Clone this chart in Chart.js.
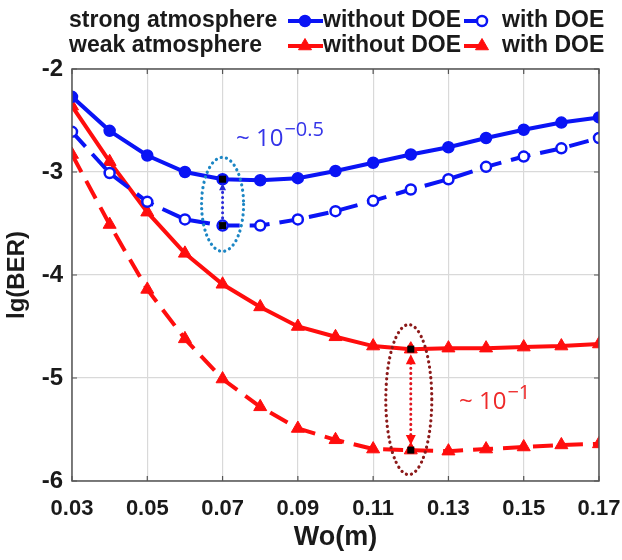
<!DOCTYPE html>
<html>
<head>
<meta charset="utf-8">
<script src="https://cdn.jsdelivr.net/npm/chart.js@4"></script>
<style>
  html,body{margin:0;padding:0;background:#fff;}
  #wrap{width:622px;height:560px;position:relative;}
</style>
</head>
<body>
<div id="wrap"><canvas id="c" width="622" height="560"></canvas></div>
<script>
// ---- data ----
const wo = [0.03,0.04,0.05,0.06,0.07,0.08,0.09,0.10,0.11,0.12,0.13,0.14,0.15,0.16,0.17];
const strongNoDOE = [-2.27,-2.60,-2.84,-3.00,-3.07,-3.08,-3.06,-2.99,-2.91,-2.83,-2.76,-2.67,-2.59,-2.52,-2.47];
const strongDOE   = [-2.61,-3.01,-3.29,-3.46,-3.52,-3.52,-3.46,-3.38,-3.28,-3.17,-3.07,-2.95,-2.85,-2.77,-2.67];
const weakNoDOE   = [-2.36,-2.90,-3.39,-3.79,-4.09,-4.31,-4.50,-4.60,-4.69,-4.72,-4.71,-4.71,-4.70,-4.69,-4.67];
const weakDOE     = [-2.83,-3.51,-4.14,-4.62,-5.01,-5.28,-5.49,-5.60,-5.69,-5.70,-5.71,-5.69,-5.67,-5.65,-5.64];
const xTicks = [0.03,0.05,0.07,0.09,0.11,0.13,0.15,0.17];
const yTicks = [-6,-5,-4,-3,-2];
const rowLabels = ['strong atmosphere','weak atmosphere'];
const seriesLabels = ['without DOE','with DOE'];
const strongNote = {base:'~ 10', exp:'\u22120.5', at:0.07};
const weakNote = {base:'~ 10', exp:'\u22121', at:0.12};

const BLUE = '#0a14f5', RED = '#ff0d0d';
const pts = a => a.map((v,i)=>({x:wo[i], y:v}));

const annotPlugin = {
  id:'annot',
  afterDatasetsDraw(chart){
    const ctx = chart.ctx, xs = chart.scales.x, ys = chart.scales.y;
    const drawEllipse = (cx, cy, rx, ry, color) => {
      ctx.save();
      ctx.strokeStyle = color; ctx.lineWidth = 3.2; ctx.lineCap='round';
      ctx.setLineDash([0.1,5.2]);
      ctx.beginPath(); ctx.ellipse(cx, cy, rx, ry, 0, 0, Math.PI*2); ctx.stroke();
      ctx.restore();
    };
    const drawVDots = (x0, ya, yb, color) => {
      ctx.save();
      ctx.strokeStyle = color; ctx.lineWidth = 3; ctx.lineCap='round';
      ctx.setLineDash([0.1,5]);
      ctx.beginPath(); ctx.moveTo(x0, ya); ctx.lineTo(x0, yb); ctx.stroke();
      ctx.restore();
    };
    const arrow = (x0, yTip, dir, color, w, h) => {
      ctx.save(); ctx.fillStyle = color;
      ctx.beginPath(); ctx.moveTo(x0, yTip); ctx.lineTo(x0-w, yTip+dir*h); ctx.lineTo(x0+w, yTip+dir*h); ctx.closePath(); ctx.fill();
      ctx.restore();
    };
    const sq = (x0,y0) => { ctx.save(); ctx.fillStyle='#000'; ctx.fillRect(x0-3.5,y0-3.5,7,7); ctx.restore(); };

    // strong
    let i = wo.indexOf(strongNote.at);
    let px = xs.getPixelForValue(wo[i]);
    let y1 = ys.getPixelForValue(strongNoDOE[i]), y2 = ys.getPixelForValue(strongDOE[i]);
    drawVDots(px, y1+8, y2-3, '#2a2ad8');
    arrow(px, y1+4, 1, '#2a2ad8', 3.5, 7);
    drawEllipse(px, (y1+y2)/2+2, 21, 47, '#1c86c4');
    sq(px,y1); sq(px,y2);

    // weak
    i = wo.indexOf(weakNote.at);
    px = xs.getPixelForValue(wo[i]);
    y1 = ys.getPixelForValue(weakNoDOE[i]); y2 = ys.getPixelForValue(weakDOE[i]);
    drawVDots(px, y1+14, y2-14, '#e0141e');
    arrow(px, y1+5, 1, RED, 5, 10);
    arrow(px, y2-5, -1, RED, 5, 10);
    drawEllipse(px-2, (y1+y2)/2, 23, 75, '#8c1a1a');
    sq(px,y1); sq(px,y2);

    // notes
    const note = (n, x0, yb, color, f1, f2, rise) => {
      ctx.save(); ctx.fillStyle = color; ctx.textBaseline='alphabetic'; ctx.textAlign='left';
      ctx.font = f1 + 'px "Open Sans", "Noto Sans", sans-serif';
      ctx.fillText(n.base, x0, yb);
      const w = ctx.measureText(n.base).width;
      ctx.font = f2 + 'px "Open Sans", "Noto Sans", sans-serif';
      ctx.fillText(n.exp, x0 + w + 1, yb - rise);
      ctx.restore();
    };
    note(strongNote, 236, 146, '#3434e8', 24, 20, 10);
    note(weakNote, 459, 409, '#ee2a2a', 24, 20, 10);
  },
  afterDraw(chart){
    const ctx = chart.ctx, ca = chart.chartArea, xs = chart.scales.x, ys = chart.scales.y;
    ctx.save();
    ctx.strokeStyle = '#555'; ctx.lineWidth = 1.5;
    ctx.strokeRect(ca.left, ca.top, ca.right-ca.left, ca.bottom-ca.top);
    ctx.lineWidth = 1.2;
    ctx.beginPath();
    xTicks.forEach(v=>{ const p = xs.getPixelForValue(v);
      ctx.moveTo(p, ca.bottom); ctx.lineTo(p, ca.bottom-5);
      ctx.moveTo(p, ca.top); ctx.lineTo(p, ca.top+5); });
    yTicks.forEach(v=>{ const p = ys.getPixelForValue(v);
      ctx.moveTo(ca.left, p); ctx.lineTo(ca.left+5, p);
      ctx.moveTo(ca.right, p); ctx.lineTo(ca.right-5, p); });
    ctx.stroke();
    ctx.restore();

    // legend
    const ds = chart.data.datasets;
    const rows = [21, 46];
    ctx.save();
    ctx.font = 'bold 23px "Liberation Sans", Arial, sans-serif';
    ctx.fillStyle = '#1a1a1a'; ctx.textBaseline = 'middle'; ctx.textAlign='left';
    rows.forEach((ry, r)=>{
      ctx.fillText(rowLabels[r], 69, ry);
      const dA = ds[r*2], dB = ds[r*2+1];
      ctx.save(); ctx.strokeStyle = dA.borderColor; ctx.lineWidth = 4;
      ctx.beginPath(); ctx.moveTo(288, ry); ctx.lineTo(323, ry); ctx.stroke(); ctx.restore();
      drawMarker(ctx, dA, 305, ry);
      ctx.fillStyle = '#1a1a1a';
      ctx.fillText(seriesLabels[0], 323, ry);
      ctx.save(); ctx.strokeStyle = dB.borderColor; ctx.lineWidth = 4;
      ctx.beginPath(); ctx.moveTo(464, ry); ctx.lineTo(482, ry); ctx.stroke(); ctx.restore();
      drawMarker(ctx, dB, 482, ry);
      ctx.fillStyle = '#1a1a1a';
      ctx.fillText(seriesLabels[1], 502, ry);
    });
    ctx.restore();
  }
};

function drawMarker(ctx, d, x0, y0){
  ctx.save();
  ctx.fillStyle = d.pointBackgroundColor; ctx.strokeStyle = d.borderColor; ctx.lineWidth = d.pointBorderWidth;
  ctx.beginPath();
  if (d.pointStyle === 'circle') { ctx.arc(x0, y0, d.pointRadius, 0, Math.PI*2); }
  else { const r = d.pointRadius; ctx.moveTo(x0, y0-r); ctx.lineTo(x0+r*0.866, y0+r*0.5); ctx.lineTo(x0-r*0.866, y0+r*0.5); ctx.closePath(); }
  ctx.fill(); ctx.stroke();
  ctx.restore();
}

new Chart(document.getElementById('c'), {
  type:'line',
  data:{ datasets:[
    { label:'strong without DOE', data:pts(strongNoDOE), borderColor:BLUE, backgroundColor:BLUE,
      pointBackgroundColor:BLUE, pointStyle:'circle', pointRadius:5.5, pointBorderWidth:1.5, borderWidth:4, tension:0 },
    { label:'strong with DOE', data:pts(strongDOE), borderColor:BLUE, backgroundColor:'#fff',
      pointBackgroundColor:'#ffffff', pointStyle:'circle', pointRadius:5, pointBorderWidth:2.5, borderWidth:4, borderDash:[20,10], tension:0 },
    { label:'weak without DOE', data:pts(weakNoDOE), borderColor:RED, backgroundColor:RED,
      pointBackgroundColor:RED, pointStyle:'triangle', pointRadius:7.5, pointBorderWidth:1, borderWidth:4, tension:0 },
    { label:'weak with DOE', data:pts(weakDOE), borderColor:RED, backgroundColor:RED,
      pointBackgroundColor:RED, pointStyle:'triangle', pointRadius:7.5, pointBorderWidth:1, borderWidth:4, borderDash:[20,10], tension:0 }
  ]},
  options:{
    responsive:false, animation:false, devicePixelRatio:1,
    layout:{ padding:{ left:0, right:23, top:69, bottom:0 } },
    plugins:{ legend:{display:false}, tooltip:{enabled:false} },
    scales:{
      x:{ type:'linear', min:0.03, max:0.17,
        afterBuildTicks: s => { s.ticks = xTicks.map(v=>({value:v})); },
        afterFit: s => { s.height = 79; s.paddingLeft = 0; s.paddingRight = 0; },
        grid:{ color:'#d9d9d9', lineWidth:1.2, drawTicks:false },
        border:{ display:false },
        ticks:{ padding:15, color:'#1a1a1a', font:{family:'"Liberation Sans", Arial, sans-serif', size:22, weight:'bold'},
          callback: v => v.toFixed(2), maxRotation:0, autoSkip:false },
        title:{ display:true, text:'Wo(m)', color:'#1a1a1a', padding:{top:0,bottom:6},
          font:{family:'"Liberation Sans", Arial, sans-serif', size:27, weight:'bold'} }
      },
      y:{ type:'linear', min:-6, max:-2,
        afterBuildTicks: s => { s.ticks = yTicks.map(v=>({value:v})); },
        afterFit: s => { s.width = 72; s.paddingTop = 0; s.paddingBottom = 0; },
        grid:{ color:'#d9d9d9', lineWidth:1.2, drawTicks:false },
        border:{ display:false },
        ticks:{ padding:9, color:'#1a1a1a', font:{family:'"Liberation Sans", Arial, sans-serif', size:24, weight:'bold'} },
        title:{ display:true, text:'lg(BER)', color:'#1a1a1a', padding:{top:3,bottom:0},
          font:{family:'"Liberation Sans", Arial, sans-serif', size:24, weight:'bold'} }
      }
    }
  },
  plugins:[annotPlugin]
});
</script>
</body>
</html>
